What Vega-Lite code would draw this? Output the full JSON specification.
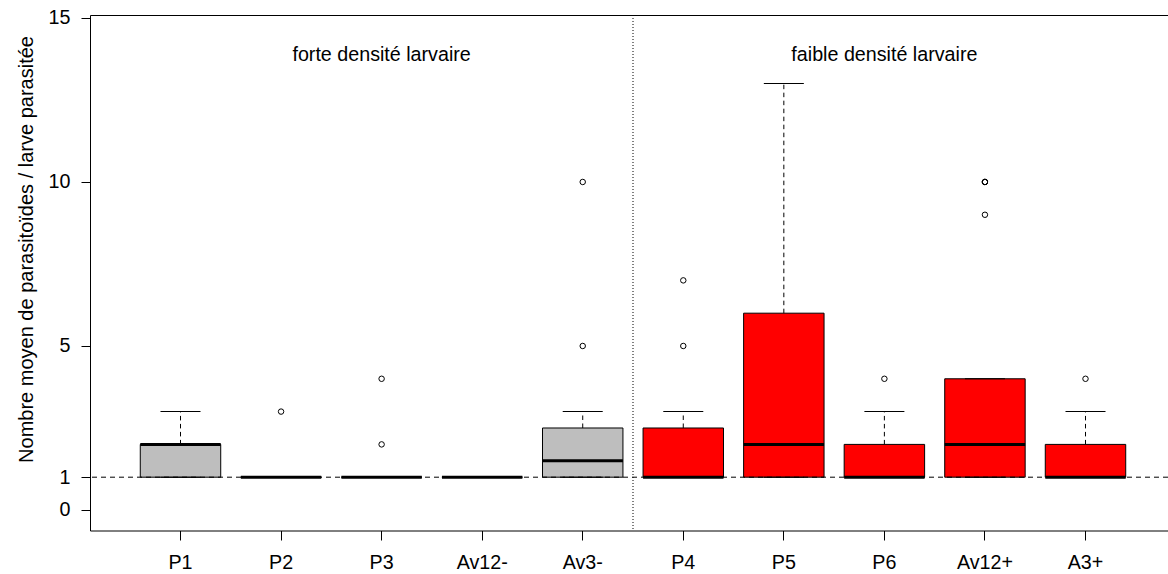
{
  "$schema": "https://vega.github.io/schema/vega-lite/v6.json",
  "width": 1078,
  "height": 515.5,
  "autosize": {"type": "none"},
  "padding": {"left": 90, "top": 15, "right": 0, "bottom": 43.5},
  "background": "white",
  "config": {
    "font": "Liberation Sans",
    "view": {"stroke": "black", "strokeWidth": 1},
    "axis": {
      "grid": false,
      "domain": false,
      "tickColor": "black",
      "tickWidth": 1,
      "labelColor": "black",
      "labelFont": "Liberation Sans",
      "titleFont": "Liberation Sans",
      "labelFontSize": 19.7,
      "titleFontSize": 20,
      "titleFontWeight": "normal",
      "titleColor": "black"
    }
  },
  "datasets": {
    "boxes": [
      {"cat": "P1", "densite": "forte", "lower": 1, "q1": 1, "median": 2, "q3": 2, "upper": 3},
      {"cat": "P2", "densite": "forte", "lower": 1, "q1": 1, "median": 1, "q3": 1, "upper": 1},
      {"cat": "P3", "densite": "forte", "lower": 1, "q1": 1, "median": 1, "q3": 1, "upper": 1},
      {"cat": "Av12-", "densite": "forte", "lower": 1, "q1": 1, "median": 1, "q3": 1, "upper": 1},
      {"cat": "Av3-", "densite": "forte", "lower": 1, "q1": 1, "median": 1.5, "q3": 2.5, "upper": 3},
      {"cat": "P4", "densite": "faible", "lower": 1, "q1": 1, "median": 1, "q3": 2.5, "upper": 3},
      {"cat": "P5", "densite": "faible", "lower": 1, "q1": 1, "median": 2, "q3": 6, "upper": 13},
      {"cat": "P6", "densite": "faible", "lower": 1, "q1": 1, "median": 1, "q3": 2, "upper": 3},
      {"cat": "Av12+", "densite": "faible", "lower": 1, "q1": 1, "median": 2, "q3": 4, "upper": 4},
      {"cat": "A3+", "densite": "faible", "lower": 1, "q1": 1, "median": 1, "q3": 2, "upper": 3}
    ],
    "outliers": [
      {"cat": "P2", "value": 3},
      {"cat": "P3", "value": 2},
      {"cat": "P3", "value": 4},
      {"cat": "Av3-", "value": 5},
      {"cat": "Av3-", "value": 10},
      {"cat": "P4", "value": 5},
      {"cat": "P4", "value": 7},
      {"cat": "P6", "value": 4},
      {"cat": "Av12+", "value": 9},
      {"cat": "Av12+", "value": 10},
      {"cat": "Av12+", "value": 10},
      {"cat": "Av12+", "value": 10},
      {"cat": "A3+", "value": 4}
    ],
    "labels": [
      {"cat": "P3", "label": "forte densité larvaire"},
      {"cat": "P6", "label": "faible densité larvaire"}
    ]
  },
  "layer": [
    {
      "data": {"name": "boxes"},
      "mark": {"type": "bar", "stroke": "black", "strokeWidth": 1, "width": {"band": 0.8}},
      "encoding": {
        "x": {
          "field": "cat",
          "type": "nominal",
          "sort": null,
          "scale": {
            "domain": ["P1", "P2", "P3", "Av12-", "Av3-", "P4", "P5", "P6", "Av12+", "A3+"],
            "range": [0, 1086],
            "paddingInner": 0,
            "paddingOuter": 0.4
          },
          "axis": {
            "title": null,
            "labelAngle": 0,
            "tickSize": 9.5,
            "labelPadding": 12,
            "domain": false,
            "labelFontSize": 19.7
          }
        },
        "y": {
          "field": "q1",
          "type": "quantitative",
          "scale": {"domain": [-0.625, 15.09], "nice": false, "zero": false},
          "axis": {
            "title": "Nombre moyen de parasitoïdes / larve parasitée",
            "values": [0, 1, 5, 10, 15],
            "format": "d",
            "tickSize": 9,
            "labelPadding": 11,
            "titleAngle": 270,
            "titleAlign": "center",
            "titleBaseline": "alphabetic",
            "titleX": -57.5,
            "titleY": 234
          }
        },
        "y2": {"field": "q3"},
        "color": {
          "field": "densite",
          "type": "nominal",
          "scale": {"domain": ["forte", "faible"], "range": ["#BEBEBE", "#FF0000"]},
          "legend": null
        }
      }
    },
    {
      "data": {"values": [{}]},
      "mark": {"type": "rule", "color": "black", "strokeWidth": 1, "strokeDash": [5, 4]},
      "encoding": {"y": {"datum": 1, "type": "quantitative"}}
    },
    {
      "data": {"values": [{}]},
      "mark": {"type": "rule", "color": "black", "strokeWidth": 1, "strokeDash": [1, 2]},
      "encoding": {"x": {"datum": "P4", "type": "nominal", "bandPosition": 0}}
    },
    {
      "data": {"name": "boxes"},
      "mark": {"type": "rule", "color": "black", "strokeWidth": 1, "strokeDash": [4.5, 3.5]},
      "encoding": {
        "x": {"field": "cat", "type": "nominal"},
        "y": {"field": "q3", "type": "quantitative"},
        "y2": {"field": "upper"}
      }
    },
    {
      "data": {"name": "boxes"},
      "mark": {"type": "tick", "color": "black", "size": 40, "thickness": 1, "opacity": 1},
      "encoding": {
        "x": {"field": "cat", "type": "nominal"},
        "y": {"field": "upper", "type": "quantitative"}
      }
    },
    {
      "data": {"name": "boxes"},
      "mark": {"type": "tick", "color": "black", "size": 40, "thickness": 1, "opacity": 1},
      "encoding": {
        "x": {"field": "cat", "type": "nominal"},
        "y": {"field": "lower", "type": "quantitative"}
      }
    },
    {
      "data": {"name": "boxes"},
      "mark": {"type": "tick", "color": "black", "size": 80.4, "thickness": 3, "opacity": 1},
      "encoding": {
        "x": {"field": "cat", "type": "nominal"},
        "y": {"field": "median", "type": "quantitative"}
      }
    },
    {
      "data": {"name": "outliers"},
      "mark": {"type": "point", "shape": "circle", "filled": false, "color": "black", "size": 30, "strokeWidth": 1, "opacity": 1},
      "encoding": {
        "x": {"field": "cat", "type": "nominal"},
        "y": {"field": "value", "type": "quantitative"}
      }
    },
    {
      "data": {"name": "labels"},
      "mark": {"type": "text", "font": "Liberation Sans", "fontSize": 19.7, "color": "black", "align": "center", "baseline": "alphabetic", "dy": 10},
      "encoding": {
        "x": {"field": "cat", "type": "nominal"},
        "y": {"datum": 14, "type": "quantitative"},
        "text": {"field": "label"}
      }
    }
  ]
}
